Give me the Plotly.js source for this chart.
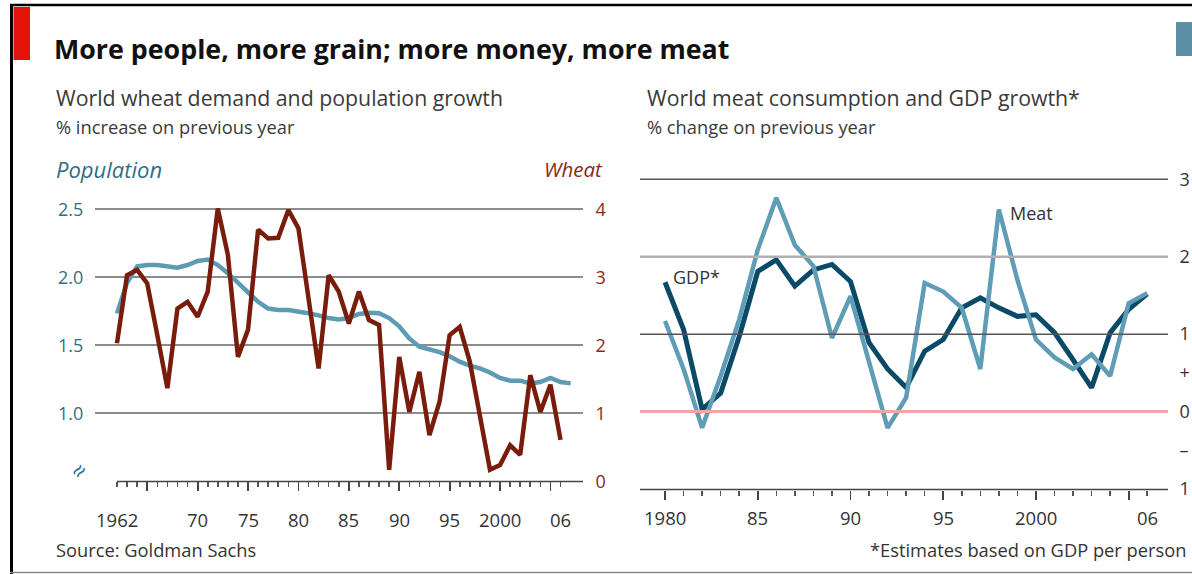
<!DOCTYPE html>
<html>
<head>
<meta charset="utf-8">
<script src="https://cdn.plot.ly/plotly-3.0.1.min.js"></script>
<style>html,body{margin:0;padding:0;background:#fff;}#chart{width:1192px;height:574px;}</style>
</head>
<body>
<div id="chart"></div>
<script>
// ---- Data ----
var wheatYears = [1962,1963,1964,1965,1966,1967,1968,1969,1970,1971,1972,1973,1974,1975,1976,1977,1978,1979,1980,1981,1982,1983,1984,1985,1986,1987,1988,1989,1990,1991,1992,1993,1994,1995,1996,1997,1998,1999,2000,2001,2002,2003,2004,2005,2006];
var wheat = [2.03,3.03,3.11,2.91,2.15,1.37,2.54,2.64,2.42,2.79,4.01,3.33,1.83,2.23,3.70,3.57,3.58,3.99,3.72,2.74,1.66,3.03,2.79,2.32,2.79,2.37,2.30,0.17,1.83,1.02,1.61,0.68,1.17,2.15,2.27,1.76,0.98,0.17,0.24,0.53,0.39,1.56,1.02,1.42,0.61];
var popYears = [1962,1963,1964,1965,1966,1967,1968,1969,1970,1971,1972,1973,1974,1975,1976,1977,1978,1979,1980,1981,1982,1983,1984,1985,1986,1987,1988,1989,1990,1991,1992,1993,1994,1995,1996,1997,1998,1999,2000,2001,2002,2003,2004,2005,2006,2007];
var population = [1.735,1.96,2.08,2.09,2.09,2.08,2.07,2.09,2.12,2.13,2.09,2.03,1.96,1.88,1.82,1.77,1.76,1.76,1.75,1.735,1.72,1.70,1.69,1.70,1.73,1.74,1.735,1.70,1.64,1.55,1.49,1.47,1.45,1.42,1.38,1.35,1.33,1.30,1.26,1.24,1.24,1.22,1.23,1.26,1.23,1.22];
var meatYears = [1980,1981,1982,1983,1984,1985,1986,1987,1988,1989,1990,1991,1992,1993,1994,1995,1996,1997,1998,1999,2000,2001,2002,2003,2004,2005,2006];
var gdp = [1.67,1.06,0.03,0.24,0.97,1.81,1.96,1.62,1.83,1.90,1.68,0.89,0.55,0.31,0.78,0.93,1.34,1.47,1.34,1.23,1.25,1.02,0.67,0.31,1.02,1.32,1.52];
var meat = [1.17,0.55,-0.21,0.46,1.19,2.09,2.76,2.15,1.88,0.95,1.49,0.65,-0.21,0.18,1.66,1.55,1.34,0.55,2.61,1.70,0.93,0.70,0.55,0.74,0.46,1.40,1.53];
var leftXTickVals = [1962,1970,1975,1980,1985,1990,1995,2000,2006];
var leftXTickText = ['1962','70','75','80','85','90','95','2000','06'];
var leftMajorTicks = [1965,1970,1975,1980,1985,1990,1995,2000,2005];
var rightXTickVals = [1980,1985,1990,1995,2000,2006];
var rightXTickText = ['1980','85','90','95','2000','06'];
var rightMajorTicks = [1980,1985,1990,1995,2000,2005];
var popTickVals = [1.0,1.5,2.0,2.5];
var popTickText = ['1.0','1.5','2.0','2.5'];
var wheatTickVals = [0,1,2,3,4];
var rightYTickVals = [3,2,1,0.5,0,-0.5,-1];
var rightYTickText = ['3','2','1','+','0','\u2013','1'];

// ---- helpers (pixel -> paper) ----
var W = 1192, H = 574;
function px(x){ return x / W; }
function py(y){ return 1 - y / H; }

var FONT = '"Open Sans", "Noto Sans", sans-serif';
var TEAL = '#2f6f86', RED = '#8a2a18';

var traces = [
  {x: popYears, y: population, xaxis:'x', yaxis:'y', mode:'lines', line:{color:'#5c9cb3', width:4.5}, hoverinfo:'skip'},
  {x: wheatYears, y: wheat, xaxis:'x', yaxis:'y2', mode:'lines', line:{color:'#7a1c0c', width:4.5}, hoverinfo:'skip'},
  {x: meatYears, y: gdp, xaxis:'x2', yaxis:'y3', mode:'lines', line:{color:'#0b4a66', width:5}, hoverinfo:'skip'},
  {x: meatYears, y: meat, xaxis:'x2', yaxis:'y3', mode:'lines', line:{color:'#5f9db6', width:4.5}, hoverinfo:'skip'},
  // empty trace that only carries the left panel's year tick axis
  {x: [], y: [], xaxis:'x3', yaxis:'y4', mode:'lines', hoverinfo:'skip'}
];

var annotations = [];
function txt(t, x, y, size, opts){
  opts = opts || {};
  annotations.push({text:t, xref:opts.xref||'paper', yref:'paper', x: opts.xref ? x : px(x), y: py(y),
    xanchor: opts.xanchor||'left', yanchor:'middle', showarrow:false,
    font:{family:FONT, size:size, color:opts.color||'#333'}, textangle: opts.angle||0});
}
txt('<b>More people, more grain; more money, more meat</b>', 52, 49, 26.8, {color:'#111'});
txt('World wheat demand and population growth', 54, 97, 21.3, {color:'#3a3a3a'});
txt('% increase on previous year', 54, 127, 18.3, {color:'#3a3a3a'});
txt('World meat consumption and GDP growth*', 645, 97, 21.3, {color:'#3a3a3a'});
txt('% change on previous year', 645, 127, 18.3, {color:'#3a3a3a'});
txt('<i>Population</i>', 54, 169, 22, {color:TEAL});
txt('<i>Wheat</i>', 605, 169, 20.5, {color:RED, xanchor:'right'});
txt('\u2248', 78, 470, 24, {color:TEAL, xanchor:'center', angle:-50});
txt('GDP*', 671, 277, 18, {color:'#333'});
txt('Meat', 1008, 213, 18, {color:'#333'});
txt('Source: Goldman Sachs', 54, 549, 18.3, {color:'#333'});
txt('*Estimates based on GDP per person', 1188, 549, 18.3, {color:'#333', xanchor:'right'});
leftXTickVals.forEach(function(v,i){ txt(leftXTickText[i], v, 519, 18.5, {xref:'x', xanchor:'center'}); });
rightXTickVals.forEach(function(v,i){ txt(rightXTickText[i], v, 517, 18.5, {xref:'x2', xanchor:'center'}); });

var shapes = [
  {type:'line', xref:'paper', yref:'paper', x0:px(10), x1:1, y0:py(5), y1:py(5), line:{color:'#000', width:2.5}},
  {type:'line', xref:'paper', yref:'paper', x0:px(11.5), x1:px(11.5), y0:py(5), y1:0, line:{color:'#000', width:3}},
  {type:'line', xref:'paper', yref:'paper', x0:px(10), x1:1, y0:py(572.5), y1:py(572.5), line:{color:'#888', width:1.5}},
  {type:'rect', xref:'paper', yref:'paper', x0:px(13.5), x1:px(30), y0:py(60), y1:py(7), fillcolor:'#e3120b', line:{width:0}},
  {type:'rect', xref:'paper', yref:'paper', x0:px(1176), x1:1, y0:py(56), y1:py(22), fillcolor:'#5b8fa4', line:{width:0}},
  // left x axis line
  {type:'line', xref:'paper', yref:'paper', x0:px(117), x1:px(583), y0:py(481.5), y1:py(481.5), line:{color:'#444', width:1.5}},
  // right panel gridlines
  {type:'line', xref:'paper', yref:'y3', x0:px(640), x1:px(1168), y0:3, y1:3, line:{color:'#555', width:1.5}},
  {type:'line', xref:'paper', yref:'y3', x0:px(640), x1:px(1168), y0:2, y1:2, line:{color:'#b0b0b0', width:2.5}},
  {type:'line', xref:'paper', yref:'y3', x0:px(640), x1:px(1168), y0:1, y1:1, line:{color:'#555', width:1.5}},
  {type:'line', xref:'paper', yref:'y3', x0:px(640), x1:px(1168), y0:0, y1:0, line:{color:'#f4a3a6', width:3}},
  {type:'line', xref:'paper', yref:'paper', x0:px(640), x1:px(1168), y0:py(489.5), y1:py(489.5), line:{color:'#444', width:1.5}}
];

var leftDomX = [px(95), px(583)], leftDomY = [py(481.3), py(195)], leftRangeX = [1959.82, 2008.23];

var layout = {
  width: W, height: H, margin:{l:0,r:0,t:0,b:0}, showlegend:false,
  paper_bgcolor:'#fff', plot_bgcolor:'rgba(0,0,0,0)',
  font:{family:FONT, color:'#333'},
  xaxis:{type:'linear', domain:leftDomX, range:leftRangeX, anchor:'y', showgrid:false, zeroline:false, showline:false,
    ticks:'', showticklabels:false},
  yaxis:{domain:leftDomY, range:[0.5, 2.605], showgrid:true, gridcolor:'#8c8c8c', gridwidth:2, zeroline:false,
    tickmode:'array', tickvals:popTickVals, ticktext:popTickText, ticks:'outside', ticklen:7, tickcolor:'rgba(0,0,0,0)',
    tickfont:{family:FONT, size:18, color:TEAL}},
  yaxis2:{overlaying:'y', side:'right', anchor:'x', range:[0, 4.21], showgrid:false, zeroline:false,
    tickmode:'array', tickvals:wheatTickVals, ticks:'outside', ticklen:8, tickcolor:'rgba(0,0,0,0)',
    tickfont:{family:FONT, size:18, color:RED}},
  xaxis3:{type:'linear', domain:leftDomX, range:leftRangeX, anchor:'y4', showgrid:false, zeroline:false, showline:false,
    tickmode:'array', tickvals:leftMajorTicks, ticks:'outside', ticklen:9, tickwidth:1.8, tickcolor:'#444', showticklabels:false,
    minor:{tickmode:'array', tickvals:wheatYears, ticks:'outside', ticklen:5, tickwidth:1.6, tickcolor:'#555'}},
  yaxis4:{domain:leftDomY, range:[0,1], anchor:'x3', visible:false, showgrid:false, zeroline:false},
  xaxis2:{type:'linear', domain:[px(640), px(1168)], range:[1978.65, 2007.12], anchor:'y3', showgrid:false, zeroline:false, showline:false,
    tickmode:'array', tickvals:rightMajorTicks, ticks:'outside', ticklen:9, tickwidth:1.8, tickcolor:'#444', showticklabels:false,
    minor:{tickmode:'array', tickvals:meatYears, ticks:'outside', ticklen:5, tickwidth:1.6, tickcolor:'#555'}},
  yaxis3:{domain:[py(489.5), py(170)], range:[-1.006, 3.12], anchor:'x2', side:'right', showgrid:false, zeroline:false,
    tickmode:'array', tickvals:rightYTickVals, ticktext:rightYTickText, ticks:'outside', ticklen:7, tickcolor:'rgba(0,0,0,0)',
    tickfont:{family:FONT, size:18, color:'#333'}},
  annotations: annotations,
  shapes: shapes
};

Plotly.newPlot('chart', traces, layout, {staticPlot:true, displayModeBar:false});
</script>
</body>
</html>
